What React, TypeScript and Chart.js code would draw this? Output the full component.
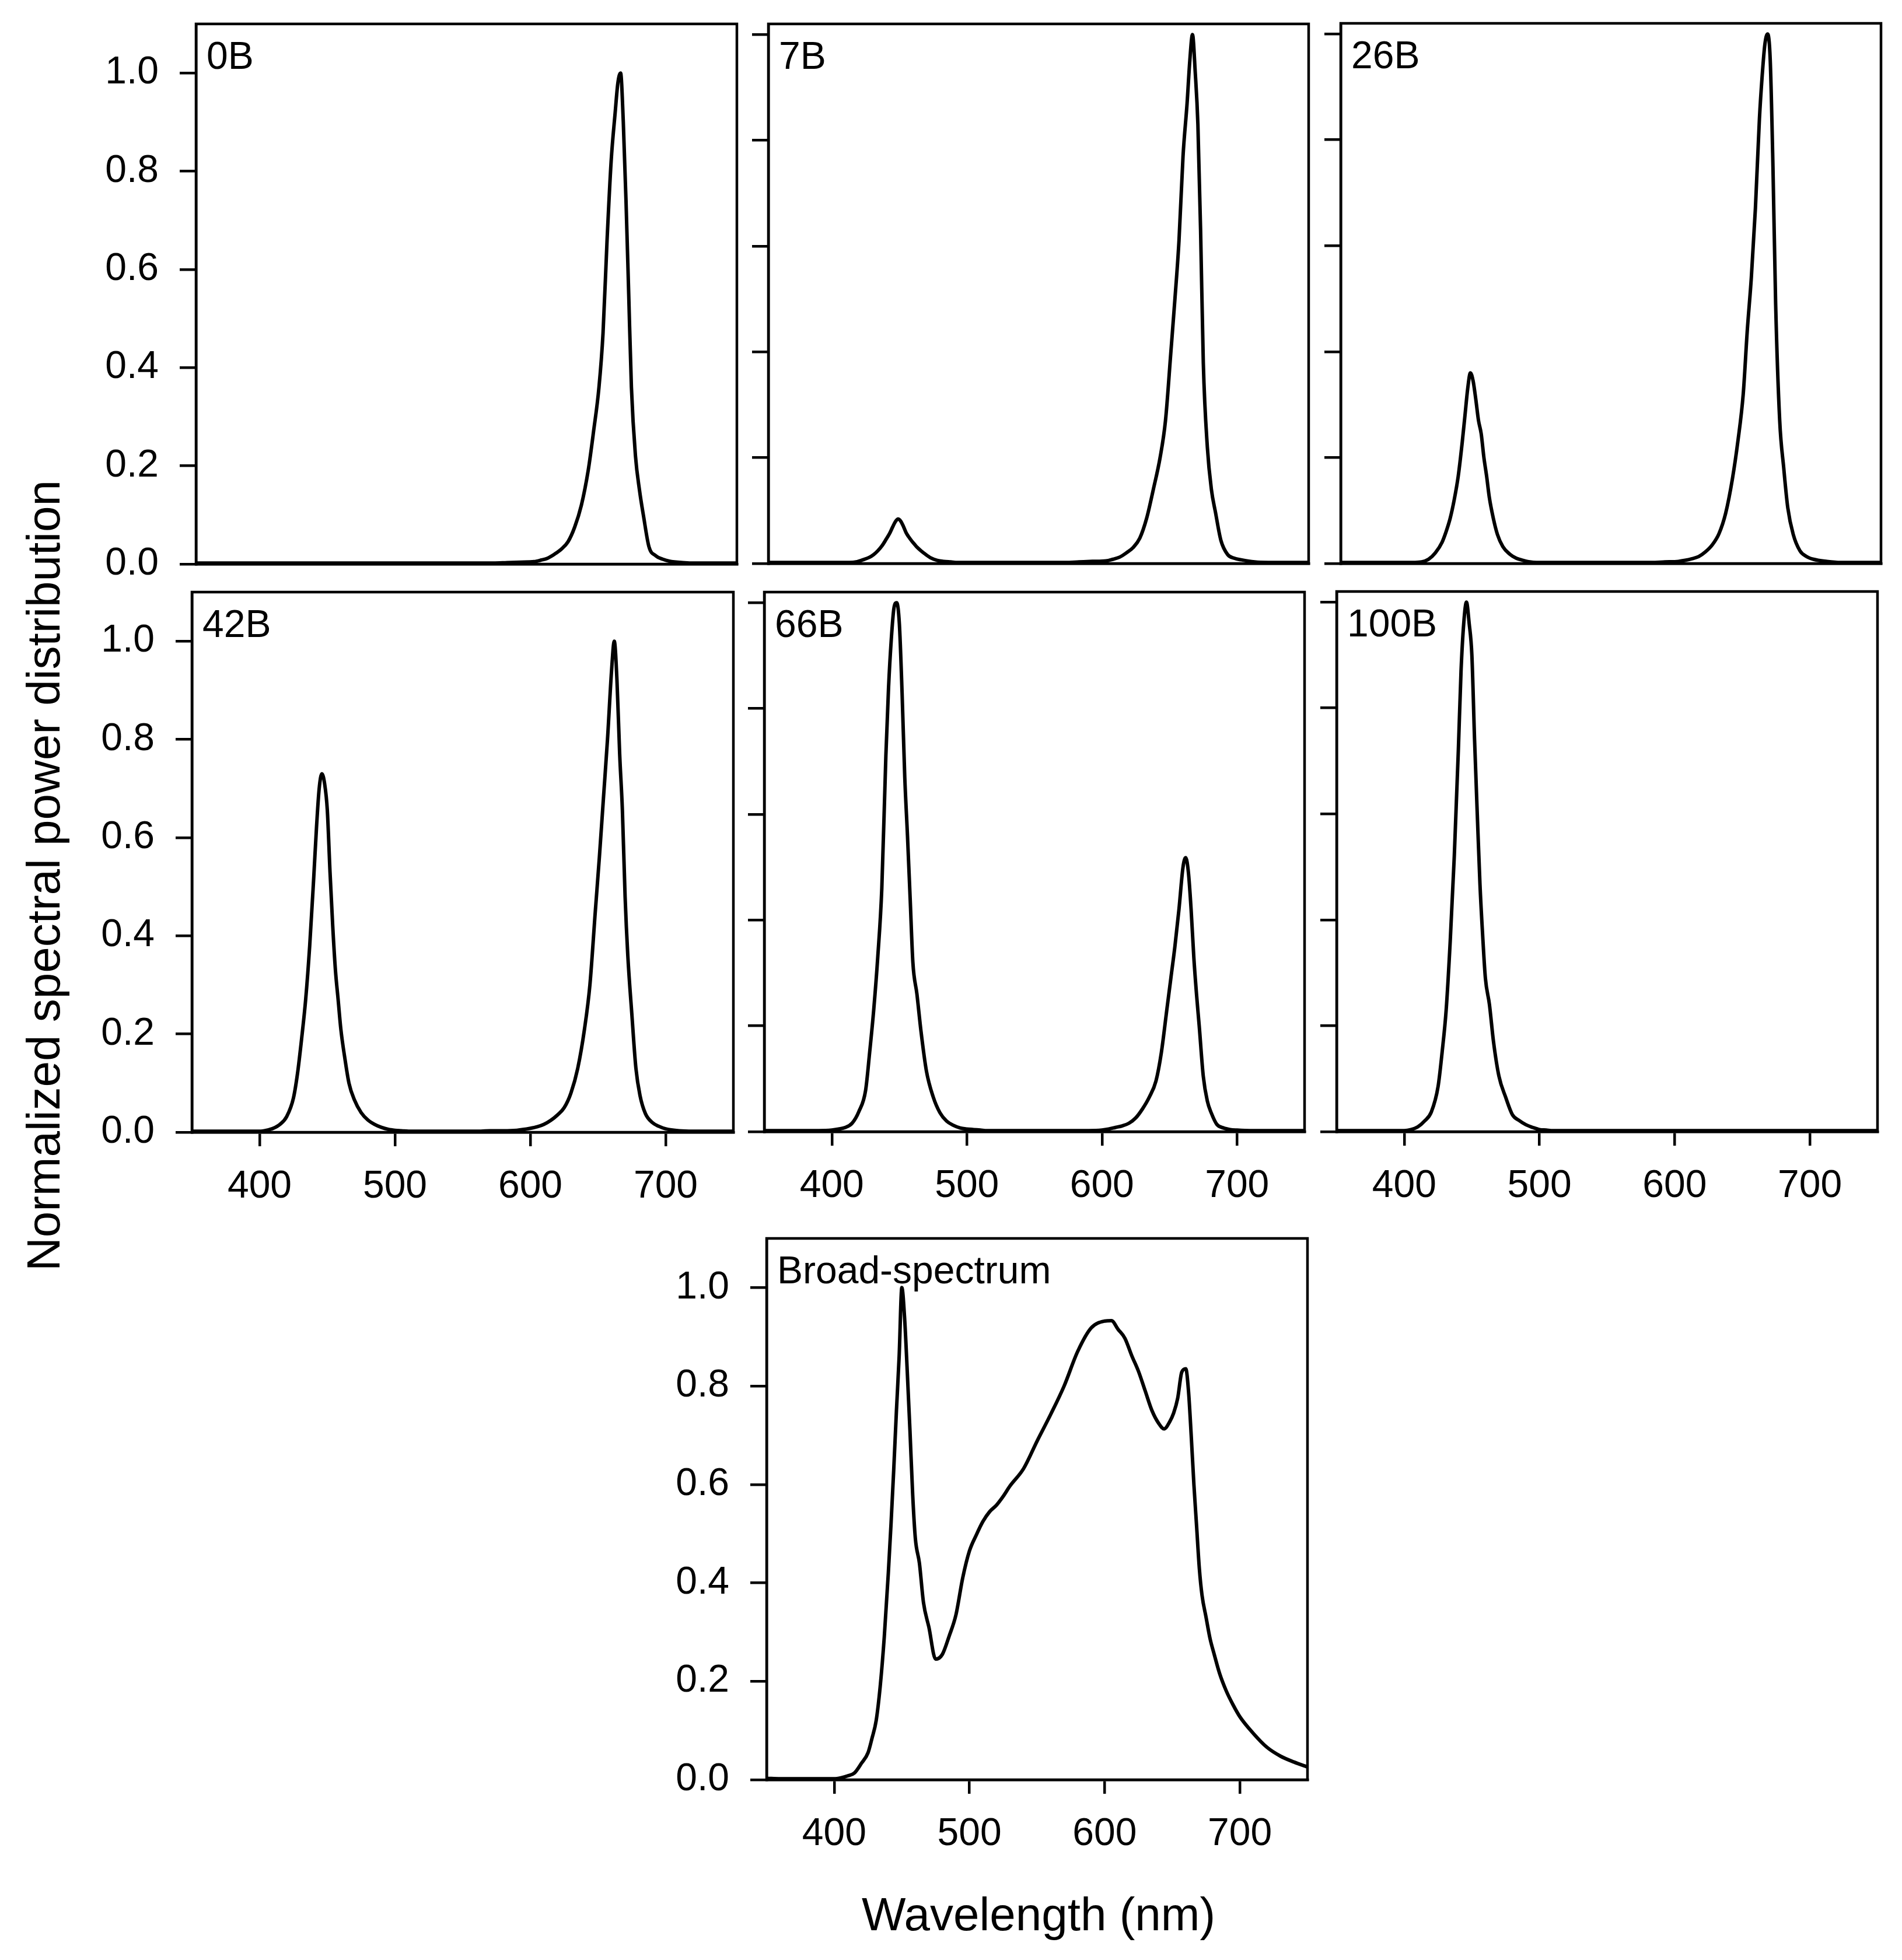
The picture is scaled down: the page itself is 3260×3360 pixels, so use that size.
import { useEffect, useRef } from 'react';
import { Chart, registerables } from 'chart.js';

Chart.register(...registerables);

// wavelength grid (nm), finer around the LED peaks
const wavelengths = [
  350, 360, 370, 380, 390, 400,
  405, 410, 415, 420, 425,
  428, 431, 434, 437, 440,
  442, 444, 446, 448, 450, 452, 454, 456, 458, 460,
  463, 466, 470, 475, 480, 485, 490, 495, 500,
  505, 510, 515, 520, 525, 530,
  540, 550, 560, 570, 580, 590, 600,
  605, 610, 615, 620, 625, 630, 635, 640,
  644, 648, 651, 654, 657, 660,
  662, 664, 666, 668, 670, 672,
  675, 678, 681, 685, 690, 695, 700,
  710, 720, 730, 740, 750,
];

const spd0B = [
  0.002, 0.002, 0.002, 0.002, 0.002, 0.002,
  0.002, 0.002, 0.002, 0.002, 0.002,
  0.002, 0.002, 0.002, 0.002, 0.002,
  0.002, 0.002, 0.002, 0.002, 0.002, 0.002, 0.002, 0.002, 0.002, 0.002,
  0.002, 0.002, 0.002, 0.002, 0.002, 0.002, 0.002, 0.002, 0.002,
  0.002, 0.002, 0.002, 0.002, 0.002, 0.002,
  0.002, 0.002, 0.002, 0.002, 0.003, 0.004, 0.005,
  0.008, 0.012, 0.02, 0.03, 0.045, 0.075, 0.12, 0.19,
  0.27, 0.36, 0.47, 0.66, 0.82, 0.92,
  0.98, 1.0, 0.9, 0.74, 0.55, 0.36,
  0.22, 0.15, 0.097, 0.035, 0.017, 0.01, 0.006,
  0.003, 0.002, 0.002, 0.002, 0.002,
];

const spd7B = [
  0.002, 0.002, 0.002, 0.002, 0.002, 0.002,
  0.002, 0.002, 0.003, 0.007, 0.012,
  0.017, 0.024, 0.033, 0.045, 0.058,
  0.069, 0.079, 0.084, 0.08, 0.07, 0.058, 0.05, 0.043, 0.037, 0.031,
  0.024, 0.018, 0.011, 0.006, 0.004, 0.003, 0.002, 0.002, 0.002,
  0.002, 0.002, 0.002, 0.002, 0.002, 0.002,
  0.002, 0.002, 0.002, 0.002, 0.003, 0.004, 0.005,
  0.008, 0.012, 0.02, 0.03, 0.048, 0.085, 0.14, 0.2,
  0.27, 0.4, 0.5, 0.61, 0.77, 0.87,
  0.95, 1.0, 0.93, 0.83, 0.63, 0.38,
  0.22, 0.14, 0.097, 0.044, 0.017, 0.01, 0.007,
  0.003, 0.002, 0.002, 0.002, 0.002,
];

const spd26B = [
  0.002, 0.002, 0.002, 0.002, 0.002, 0.002,
  0.002, 0.003, 0.008, 0.02, 0.04,
  0.06, 0.085, 0.12, 0.165, 0.23,
  0.28, 0.33, 0.36, 0.345, 0.31, 0.27, 0.245, 0.2, 0.165, 0.125,
  0.085, 0.055, 0.032, 0.018, 0.01, 0.006, 0.003, 0.002, 0.002,
  0.002, 0.002, 0.002, 0.002, 0.002, 0.002,
  0.002, 0.002, 0.002, 0.002, 0.002, 0.003, 0.004,
  0.006, 0.009, 0.013, 0.022, 0.035, 0.056, 0.095, 0.16,
  0.23, 0.32, 0.44, 0.54, 0.67, 0.84,
  0.92, 0.98, 1.0, 0.95, 0.75, 0.49,
  0.27, 0.18, 0.105, 0.055, 0.024, 0.013, 0.008,
  0.004, 0.002, 0.002, 0.002, 0.002,
];

const spd42B = [
  0.002, 0.002, 0.002, 0.002, 0.002, 0.002,
  0.004, 0.008, 0.016, 0.032, 0.07,
  0.12, 0.19, 0.27, 0.38, 0.52,
  0.62, 0.7, 0.73, 0.71, 0.656, 0.53, 0.42, 0.33, 0.27, 0.21,
  0.15, 0.1, 0.066, 0.04, 0.025, 0.016, 0.01, 0.006, 0.004,
  0.003, 0.002, 0.002, 0.002, 0.002, 0.002,
  0.002, 0.002, 0.002, 0.003, 0.003, 0.004, 0.008,
  0.011, 0.016, 0.024, 0.035, 0.05, 0.08, 0.13, 0.21,
  0.3, 0.45, 0.56, 0.68, 0.8, 0.94,
  1.0, 0.92, 0.77, 0.656, 0.48, 0.36,
  0.24, 0.13, 0.075, 0.038, 0.02, 0.012, 0.007,
  0.003, 0.002, 0.002, 0.002, 0.002,
];

const spd66B = [
  0.002, 0.002, 0.002, 0.002, 0.002, 0.003,
  0.005, 0.008, 0.016, 0.038, 0.078,
  0.15, 0.23, 0.33, 0.46, 0.71,
  0.84, 0.93, 0.99, 1.0, 0.96, 0.83, 0.67, 0.56, 0.44, 0.32,
  0.26, 0.19, 0.115, 0.066, 0.036, 0.02, 0.012, 0.007, 0.005,
  0.004, 0.003, 0.002, 0.002, 0.002, 0.002,
  0.002, 0.002, 0.002, 0.002, 0.002, 0.002, 0.003,
  0.005, 0.008, 0.011, 0.016, 0.026, 0.043, 0.065, 0.096,
  0.15, 0.23, 0.29, 0.35, 0.42, 0.5,
  0.518, 0.49, 0.42, 0.33, 0.26, 0.2,
  0.105, 0.058, 0.035, 0.014, 0.007, 0.004, 0.003,
  0.002, 0.002, 0.002, 0.002, 0.002,
];

const spd100B = [
  0.002, 0.002, 0.002, 0.002, 0.002, 0.002,
  0.004, 0.009, 0.02, 0.037, 0.085,
  0.15, 0.23, 0.36, 0.52, 0.72,
  0.87, 0.96, 1.0, 0.96, 0.9, 0.74, 0.6, 0.467, 0.37, 0.29,
  0.24, 0.17, 0.105, 0.065, 0.032, 0.021, 0.013, 0.008, 0.004,
  0.003, 0.002, 0.002, 0.002, 0.002, 0.002,
  0.002, 0.002, 0.002, 0.002, 0.002, 0.002, 0.002,
  0.002, 0.002, 0.002, 0.002, 0.002, 0.002, 0.002, 0.002,
  0.002, 0.002, 0.002, 0.002, 0.002, 0.002,
  0.002, 0.002, 0.002, 0.002, 0.002, 0.002,
  0.002, 0.002, 0.002, 0.002, 0.002, 0.002, 0.002,
  0.002, 0.002, 0.002, 0.002, 0.002,
];

const spdBroad = [
  0.003, 0.002, 0.002, 0.002, 0.002, 0.002,
  0.004, 0.008, 0.014, 0.033, 0.055,
  0.085, 0.12, 0.19, 0.29, 0.42,
  0.52, 0.63, 0.75, 0.86, 1.0, 0.94, 0.83, 0.71, 0.58, 0.49,
  0.44, 0.36, 0.31, 0.245, 0.255, 0.292, 0.335, 0.41, 0.465,
  0.497, 0.525, 0.545, 0.558, 0.576, 0.597,
  0.632, 0.688, 0.742, 0.8, 0.87, 0.918, 0.932,
  0.933, 0.915, 0.897, 0.862, 0.83, 0.79, 0.75, 0.724,
  0.713, 0.727, 0.745, 0.775, 0.828, 0.835,
  0.79, 0.7, 0.6, 0.515, 0.43, 0.375,
  0.33, 0.286, 0.255, 0.216, 0.18, 0.152, 0.128,
  0.094, 0.066, 0.048, 0.036, 0.026,
];

const panelNames = ['0B', '7B', '26B', '42B', '66B', '100B', 'Broad-spectrum'];
const panelSeries = [spd0B, spd7B, spd26B, spd42B, spd66B, spd100B, spdBroad];
const panelYMax = [1.1, 1.02, 1.02, 1.1, 1.02, 1.02, 1.1];
const yTickValues = [0, 0.2, 0.4, 0.6, 0.8, 1.0];
const xTickValues = [400, 500, 600, 700];

const FONT = "'Liberation Sans', Arial, Helvetica, sans-serif";
const MARGIN = { left: 220, top: 100, right: 30, bottom: 150 };

// plot frame of each panel in page pixels: left, top, right, bottom (y = 0)
const frames = [
  [336, 41, 1263, 967],
  [1317, 41, 2243, 966],
  [2298, 40, 3224, 966],
  [329, 1015, 1257, 1941],
  [1310, 1015, 2236, 1940],
  [2291, 1014, 3218, 1940],
  [1314, 2123, 2241, 3051],
];
const showYLabels = [true, false, false, true, false, false, true];
const showXAxis = [false, false, false, true, true, true, true];

const panelDecor = {
  id: 'panelDecor',
  afterDraw(chart: Chart, _args: unknown, opts: { text: string }) {
    const { ctx, chartArea: a } = chart;
    ctx.save();
    ctx.lineWidth = 4.5;
    ctx.strokeStyle = '#000';
    ctx.strokeRect(a.left, a.top, a.right - a.left, a.bottom - a.top);
    ctx.font = `66px ${FONT}`;
    ctx.fillStyle = '#000';
    ctx.textAlign = 'left';
    ctx.textBaseline = 'alphabetic';
    ctx.fillText(opts.text, a.left + 18, a.top + 77);
    ctx.restore();
  },
};

function Panel({ index }: { index: number }) {
  const canvasRef = useRef<HTMLCanvasElement>(null);
  const [l, t, r, b] = frames[index];
  const width = r - l + MARGIN.left + MARGIN.right;
  const height = b - t + MARGIN.top + MARGIN.bottom;

  useEffect(() => {
    if (!canvasRef.current) return;
    const showY = showYLabels[index];
    const showX = showXAxis[index];
    const chart = new Chart(canvasRef.current, {
      type: 'line',
      data: {
        datasets: [
          {
            data: wavelengths.map((w, i) => ({ x: w, y: panelSeries[index][i] })),
            borderColor: '#000',
            borderWidth: 6,
            pointRadius: 0,
            fill: false,
            cubicInterpolationMode: 'monotone',
          },
        ],
      },
      options: {
        animation: false,
        responsive: false,
        events: [],
        layout: { padding: { top: MARGIN.top, right: MARGIN.right, left: 0, bottom: 0 } },
        plugins: {
          legend: { display: false },
          tooltip: { enabled: false },
          panelDecor: { text: panelNames[index] },
        } as any,
        scales: {
          x: {
            type: 'linear',
            min: 350,
            max: 750,
            afterBuildTicks: (s: any) => {
              s.ticks = xTickValues.map((v) => ({ value: v }));
            },
            afterFit: (s: any) => {
              s.height = MARGIN.bottom;
            },
            grid: {
              display: showX,
              drawOnChartArea: false,
              drawTicks: true,
              tickLength: 24,
              lineWidth: 4.5,
              color: '#000',
            },
            border: { display: true, color: '#000', width: 4.5 },
            ticks: {
              display: showX,
              color: '#000',
              padding: 30,
              maxRotation: 0,
              autoSkip: false,
              font: { family: FONT, size: 66 },
            },
          },
          y: {
            type: 'linear',
            min: 0,
            max: panelYMax[index],
            afterBuildTicks: (s: any) => {
              s.ticks = yTickValues.map((v) => ({ value: v }));
            },
            afterFit: (s: any) => {
              s.width = MARGIN.left;
            },
            grid: {
              drawOnChartArea: false,
              drawTicks: true,
              tickLength: 28,
              lineWidth: 4.5,
              color: '#000',
            },
            border: { display: true, color: '#000', width: 4.5 },
            ticks: {
              display: showY,
              color: '#000',
              padding: 36,
              font: { family: FONT, size: 66 },
              callback: (v: any) => Number(v).toFixed(1),
            },
          },
        },
      },
      plugins: [panelDecor as any],
    });
    return () => chart.destroy();
  }, [index]);

  return (
    <canvas
      ref={canvasRef}
      width={width}
      height={height}
      style={{
        position: 'absolute',
        left: l - MARGIN.left,
        top: t - MARGIN.top,
        width,
        height,
      }}
    />
  );
}

export default function App() {
  return (
    <div
      style={{
        position: 'absolute',
        left: 0,
        top: 0,
        width: 3260,
        height: 3360,
        overflow: 'hidden',
        background: '#fff',
        fontFamily: FONT,
        color: '#000',
      }}
    >
      {panelNames.map((_, i) => (
        <Panel key={i} index={i} />
      ))}
      <div
        style={{
          position: 'absolute',
          left: 75 - 700,
          top: 1501 - 40,
          width: 1400,
          height: 80,
          lineHeight: '80px',
          fontSize: 80,
          textAlign: 'center',
          whiteSpace: 'nowrap',
          transform: 'rotate(-90deg)',
        }}
      >
        Normalized spectral power distribution
      </div>
      <div
        style={{
          position: 'absolute',
          left: 1780 - 700,
          top: 3242,
          width: 1400,
          height: 80,
          lineHeight: '80px',
          fontSize: 80,
          textAlign: 'center',
          whiteSpace: 'nowrap',
        }}
      >
        Wavelength (nm)
      </div>
    </div>
  );
}
